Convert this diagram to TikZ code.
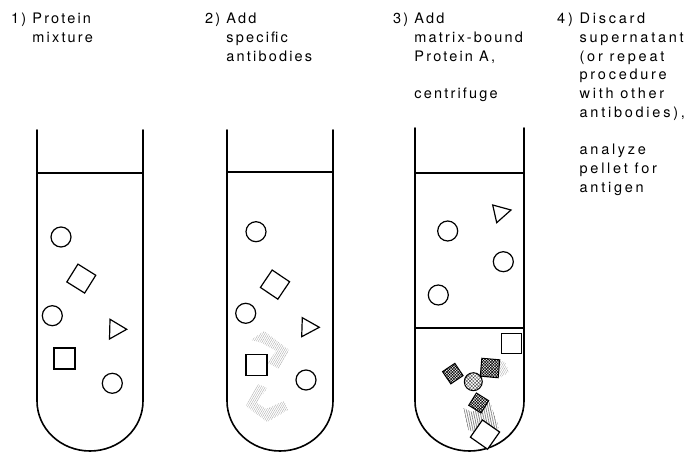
\documentclass[tikz,border=0pt]{standalone}
\usepackage{fontspec}
\setmainfont{TeX Gyre Heros}
\newfontfamily\stepfont[LetterSpace=15]{TeX Gyre Heros}
\newfontfamily\widestepfont[LetterSpace=19]{TeX Gyre Heros}
\usetikzlibrary{patterns.meta}
\begin{document}
\begin{tikzpicture}[x=1pt,y=-1pt,
  wall/.style={line width=1.6pt, line cap=round, line join=round},
  mol/.style={draw, line width=1.2pt, inner sep=0pt},
  ball/.style={mol, circle, minimum size=20pt, fill=white},
  box/.style={mol, rectangle, minimum size=21pt, fill=white},
  arrowhead/.style={line width=1.2pt, line join=miter},
  steptext/.style={anchor=north west, inner sep=0pt, align=left,
    font=\stepfont\fontsize{14.5}{18.7}\selectfont},
  faint/.style={pattern={Lines[angle=60,distance=1.8pt,line width=0.35pt]},
    pattern color=black!35},
  stem/.style={pattern={Lines[angle=80,distance=1.8pt,line width=0.4pt]},
    pattern color=black!70},
  dense/.style={mol, line width=1pt,
    pattern={Hatch[angle=45,distance=2pt,line width=0.55pt]}, pattern color=black},
]
\useasboundingbox (0,0) rectangle (688,454);

% ---- step captions ----
\node[steptext] (t1) at (11,10.5) {\begin{tabular}{@{}l@{\ }l@{}}1) & Protein\\ & mixture\end{tabular}};
\node[steptext] (t2) at (205,10.5) {\begin{tabular}{@{}l@{\ }l@{}}2) & Add\\ & specific\\ & antibodies\end{tabular}};
\node[steptext] (t3) at (393,10.5) {\begin{tabular}{@{}l@{\ }l@{}}3) & Add\\ & matrix-bound\\ & Protein A,\\ & \\ & centrifuge\end{tabular}};
\node[steptext, font=\widestepfont\fontsize{14.5}{18.7}\selectfont] (t4) at (557,10.5)
  {\begin{tabular}{@{}l@{\ }l@{}}4) & Discard\\ & supernatant\\ & (or repeat\\ & procedure\\ & with other\\ & antibodies),\\ & \\ & analyze\\ & pellet for\\ & antigen\end{tabular}};

% ---- tube 1: protein mixture ----
\draw[wall] (37,130) -- (37,401) arc[start angle=180,end angle=360,x radius=53pt,y radius=50pt] -- (143,130);
\draw[wall] (37,173) -- (143,173);
\node[ball] (a1) at (61,237) {};
\node[box, rotate=-32] (a2) at (81.3,278.6) {};
\node[ball] (a3) at (52.3,315.7) {};
\draw[arrowhead] (110,319.3) -- (126.7,329.3) -- (109.5,339) -- cycle;
\node[box] (a5) at (64.5,358.5) {};
\node[ball] (a6) at (112.3,383.3) {};

% ---- tube 2: antibodies added ----
\draw[wall] (227,130) -- (227,401) arc[start angle=180,end angle=360,x radius=53pt,y radius=50pt] -- (333,130);
\draw[wall] (227,172) -- (333,172);
\fill[faint] (251,340) -- (264,331) -- (289,350) -- (279,369) -- (268,363) -- (276,351) -- (262,343) -- cycle;
\fill[faint] (258,384) -- (267,388) -- (257,403) -- (266,409) -- (284,401) -- (288,410) -- (267,422) -- (246,406) -- cycle;
\node[ball] (b1) at (256,231.7) {};
\node[box, rotate=-34] (b2) at (275,284.6) {};
\node[ball] (b3) at (245.7,313.3) {};
\draw[arrowhead] (302.3,317.7) -- (319.3,327.3) -- (301.7,336.7) -- cycle;
\node[box] (b5) at (256.5,365.2) {};
\node[ball] (b6) at (306,380) {};

% ---- tube 3: Protein A matrix, centrifuged ----
\draw[wall] (415,128) -- (415,401) arc[start angle=180,end angle=360,x radius=54.5pt,y radius=50pt] -- (524,128);
\draw[wall] (415,173) -- (524,173);
\draw[line width=1.3pt] (415,328) -- (524,328);
\draw[arrowhead] (492.7,205) -- (511,210) -- (496.7,222.7) -- cycle;
\node[ball] (c1) at (447.7,231) {};
\node[ball] (c2) at (503.3,261.7) {};
\node[ball] (c3) at (438.3,295) {};
% pellet
\node[box, minimum size=20pt] (c4) at (511.7,343.3) {};
\fill[faint] (498,360) -- (505,362) -- (509,372) -- (500,378) -- cycle;
\fill[stem] (463,408) -- (472,412) -- (490,402) -- (499,428) -- (490,433) -- (483,418) -- (474,432) -- (468,430) -- cycle;
\node[dense, rectangle, minimum size=14.8pt, rotate=34] (c5) at (452.8,373.6) {};
\node[dense, rectangle, minimum size=18pt, rotate=-5] (c6) at (490,368) {};
\node[mol, circle, minimum size=18pt, line width=1pt,
  pattern={Hatch[angle=45,distance=2.4pt,line width=0.3pt]}, pattern color=black!80] (c7) at (473.3,381.7) {};
\node[dense, rectangle, minimum size=14.5pt, rotate=-32] (c8) at (478.7,403) {};
\node[box, rotate=-35] (c9) at (485,434.6) {};
\end{tikzpicture}
\end{document}
